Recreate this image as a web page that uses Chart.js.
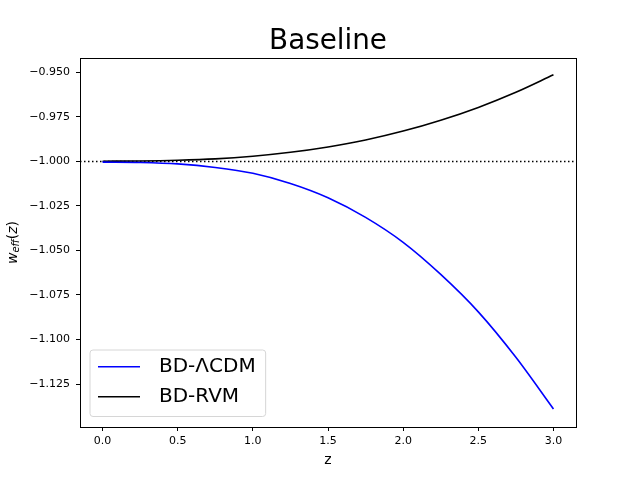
<!DOCTYPE html>
<html>
<head>
<meta charset="utf-8">
<title>Baseline</title>
<script src="https://cdn.jsdelivr.net/npm/chart.js"></script>
<style>
  html, body { margin: 0; padding: 0; background: #fff; }
  canvas { display: block; }
</style>
</head>
<body>
<canvas id="weffChart" width="640" height="480"></canvas>
<script>
// Redshift grid and w_eff(z)
const zValues = [0, 0.25, 0.5, 0.75, 1.0, 1.25, 1.5, 1.75, 2.0, 2.25, 2.5, 2.75, 3.0];
const lcdmW = [-1.0005, -1.0007, -1.0015, -1.0035, -1.0068, -1.0125, -1.0205, -1.0315, -1.0455, -1.0635, -1.0845, -1.1100, -1.1390];
const rvmW = [-1.0000, -0.9999, -0.9995, -0.9987, -0.9972, -0.9950, -0.9920, -0.9881, -0.9831, -0.9770, -0.9698, -0.9613, -0.9515];
const seriesLabels = ["BD-\u039BCDM", "BD-RVM"];
const refLevel = -1.0;

// Tick labels
const xTicks = [0, 0.5, 1.0, 1.5, 2.0, 2.5, 3.0];
const yTicks = [-1.125, -1.1, -1.075, -1.05, -1.025, -1.0, -0.975, -0.95];

const FONT = "'DejaVu Sans', sans-serif";

const toPoints = (ys) => zValues.map((z, i) => ({ x: z, y: ys[i] }));

// frame, dotted w = -1 line, y label with subscript, legend box
const extras = {
  id: "extras",
  beforeDatasetsDraw(chart) {
    const { ctx, chartArea: a, scales } = chart;
    const y = Math.round(scales.y.getPixelForValue(refLevel)) + 0.5;
    ctx.save();
    ctx.strokeStyle = "#000";
    ctx.lineWidth = 1.5;
    ctx.setLineDash([1.5, 2.5]);
    ctx.beginPath();
    ctx.moveTo(a.left, y);
    ctx.lineTo(a.right, y);
    ctx.stroke();
    ctx.restore();
  },
  afterDraw(chart) {
    const { ctx, chartArea: a } = chart;
    ctx.save();

    // axes frame
    ctx.strokeStyle = "#000";
    ctx.lineWidth = 1;
    ctx.strokeRect(Math.round(a.left) + 0.5, Math.round(a.top) + 0.5,
      Math.round(a.right - a.left), Math.round(a.bottom - a.top));

    // y label: w_eff(z)
    const cy = (a.top + a.bottom) / 2;
    ctx.translate(13, cy);
    ctx.rotate(-Math.PI / 2);
    ctx.fillStyle = "#000";
    ctx.textBaseline = "middle";
    const big = "italic 14px " + FONT, small = "italic 10px " + FONT, up = "14px " + FONT;
    const parts = [
      { t: "w", f: big, dy: 0 },
      { t: "eff", f: small, dy: 3 },
      { t: "(", f: up, dy: 0 },
      { t: "z", f: big, dy: 0 },
      { t: ")", f: up, dy: 0 }
    ];
    let total = 0;
    parts.forEach(p => { ctx.font = p.f; p.w = ctx.measureText(p.t).width; total += p.w; });
    let x = -total / 2;
    parts.forEach(p => { ctx.font = p.f; ctx.fillText(p.t, x, p.dy); x += p.w; });
    ctx.setTransform(1, 0, 0, 1, 0, 0);

    // legend
    ctx.font = "20px " + FONT;
    const ds = chart.data.datasets;
    let maxW = 0;
    ds.forEach(d => { maxW = Math.max(maxW, ctx.measureText(d.label).width); });
    const bx = a.left + 10, by = a.bottom - 77;
    const bw = 69 + maxW + 10, bh = 66.5;
    const r = 3;
    ctx.beginPath();
    ctx.moveTo(bx + r, by);
    ctx.arcTo(bx + bw, by, bx + bw, by + bh, r);
    ctx.arcTo(bx + bw, by + bh, bx, by + bh, r);
    ctx.arcTo(bx, by + bh, bx, by, r);
    ctx.arcTo(bx, by, bx + bw, by, r);
    ctx.closePath();
    ctx.fillStyle = "rgba(255,255,255,0.8)";
    ctx.fill();
    ctx.strokeStyle = "#d6d6d6";
    ctx.lineWidth = 1;
    ctx.stroke();
    ds.forEach((d, i) => {
      const ly = by + 16.7 + i * 30;
      ctx.strokeStyle = d.borderColor;
      ctx.lineWidth = 1.5;
      ctx.beginPath();
      ctx.moveTo(bx + 8, ly);
      ctx.lineTo(bx + 50, ly);
      ctx.stroke();
      ctx.fillStyle = "#000";
      ctx.textBaseline = "middle";
      ctx.fillText(d.label, bx + 69, ly);
    });
    ctx.restore();
  }
};

const config = {
  type: "line",
  data: {
    datasets: [
      { label: seriesLabels[0], data: toPoints(lcdmW), borderColor: "#0000ff", borderWidth: 1.6 },
      { label: seriesLabels[1], data: toPoints(rvmW), borderColor: "#000000", borderWidth: 1.6 }
    ]
  },
  options: {
    responsive: false,
    animation: false,
    layout: { padding: { left: 0, right: 64, top: 0, bottom: 0 } },
    elements: { point: { radius: 0 }, line: { cubicInterpolationMode: "monotone", fill: false } },
    plugins: {
      legend: { display: false },
      tooltip: { enabled: false },
      title: {
        display: true,
        text: "Baseline",
        fullSize: false,
        color: "#000",
        font: { family: FONT, size: 27.8, weight: "normal", lineHeight: 1.0 },
        padding: { top: 27.8, bottom: 2.4 }
      }
    },
    scales: {
      x: {
        type: "linear",
        min: -0.15,
        max: 3.15,
        afterFit: (s) => { s.height = 53; },
        afterBuildTicks: (s) => { s.ticks = xTicks.map(v => ({ value: v })); },
        border: { display: false },
        grid: { drawOnChartArea: false, drawTicks: true, tickLength: 4, color: "#000" },
        ticks: {
          color: "#000",
          padding: 4,
          maxRotation: 0,
          font: { family: FONT, size: 11 },
          callback: (v) => Number(v).toFixed(1)
        },
        title: {
          display: true,
          text: "z",
          color: "#000",
          font: { family: FONT, size: 14 },
          padding: { top: 0, bottom: 11.6 }
        }
      },
      y: {
        type: "linear",
        min: -1.1491,
        max: -0.9421,
        afterFit: (s) => { s.width = 80; },
        afterBuildTicks: (s) => { s.ticks = yTicks.map(v => ({ value: v })); },
        border: { display: false },
        grid: { drawOnChartArea: false, drawTicks: true, tickLength: 4, color: "#000" },
        ticks: {
          color: "#000",
          padding: 6,
          font: { family: FONT, size: 11 },
          callback: (v) => Number(v).toFixed(3).replace("-", "\u2212")
        }
      }
    }
  },
  plugins: [extras]
};

window.onload = () => {
  const ctx = document.getElementById("weffChart").getContext("2d");
  new Chart(ctx, config);
};
</script>
</body>
</html>
